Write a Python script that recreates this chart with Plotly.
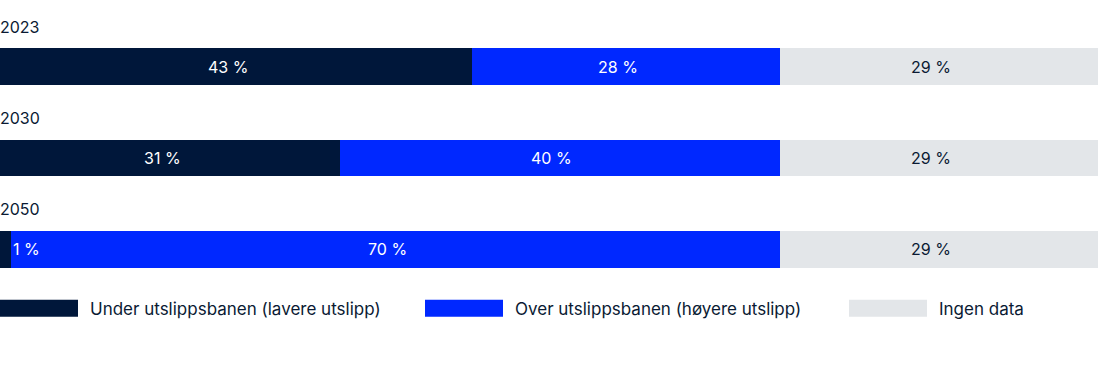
import plotly.graph_objects as go

years = ["2023", "2030", "2050"]
series_names = ["Under utslippsbanen (lavere utslipp)",
                "Over utslippsbanen (høyere utslipp)",
                "Ingen data"]
under = [43, 31, 1]
over = [28, 40, 70]
nodata = [29, 29, 29]
values = [under, over, nodata]

colors = ["#00173A", "#0028FF", "#E3E6E9"]
text_colors = ["#FFFFFF", "#FFFFFF", "#0A1A33"]
FONT = "Inter, Open Sans, sans-serif"

W, H = 1098, 381
top, bottom = 20.75, 85.75
plot_h = H - top - bottom

fig = go.Figure()
for name, vals, c in zip(series_names, values, colors):
    fig.add_trace(go.Bar(
        y=years, x=vals, orientation="h", name=name,
        marker=dict(color=c, line=dict(width=0)),
        width=0.40, showlegend=False, hoverinfo="skip",
    ))

annotations = []
# year labels
for i, yr in enumerate(years):
    annotations.append(dict(
        x=0, y=i, xref="x", yref="y", text=yr, showarrow=False,
        xanchor="left", yanchor="middle", yshift=40, xshift=-2,
        font=dict(family=FONT, size=16, color="#0A1A33"),
    ))
# segment labels
for i, yr in enumerate(years):
    start = 0
    for s, vals in enumerate(values):
        v = vals[i]
        txt = f"{v} %"
        if v < 5:
            annotations.append(dict(
                x=start + v, y=i, xref="x", yref="y", text=txt,
                showarrow=False, xanchor="left", xshift=0,
                font=dict(family=FONT, size=16, color=text_colors[s]),
            ))
        else:
            annotations.append(dict(
                x=start + v / 2, y=i, xref="x", yref="y", text=txt,
                showarrow=False, xanchor="center", xshift=-8,
                font=dict(family=FONT, size=16, color=text_colors[s]),
            ))
        start += v

# manual legend with wide swatches
legend_x = [0, 425, 849]
sw_w, sw_top, sw_bot = 78, 300, 317
shapes = []
for lx, name, c in zip(legend_x, series_names, colors):
    y0 = (H - bottom - sw_bot) / plot_h
    y1 = (H - bottom - sw_top) / plot_h
    shapes.append(dict(type="rect", xref="paper", yref="paper",
                       x0=lx / W, x1=(lx + sw_w) / W, y0=y0, y1=y1,
                       fillcolor=c, line=dict(width=0)))
    annotations.append(dict(
        x=(lx + sw_w + 10) / W, y=(H - bottom - (sw_top + sw_bot) / 2 - 1) / plot_h,
        xref="paper", yref="paper", text=name, showarrow=False,
        xanchor="left", yanchor="middle",
        font=dict(family=FONT, size=17, color="#0A1A33"),
    ))

fig.update_layout(
    width=W, height=H, barmode="stack",
    margin=dict(l=0, r=0, t=top, b=bottom),
    paper_bgcolor="white", plot_bgcolor="white",
    xaxis=dict(range=[0, 100], visible=False, fixedrange=True),
    yaxis=dict(type="category", categoryorder="array", categoryarray=years,
               range=[2.5, -0.5], visible=False, fixedrange=True),
    annotations=annotations, shapes=shapes,
    font=dict(family=FONT),
)

fig.write_html("out.html", config={"displayModeBar": False},
               post_script="document.body.style.margin='0';document.body.style.padding='0';")
